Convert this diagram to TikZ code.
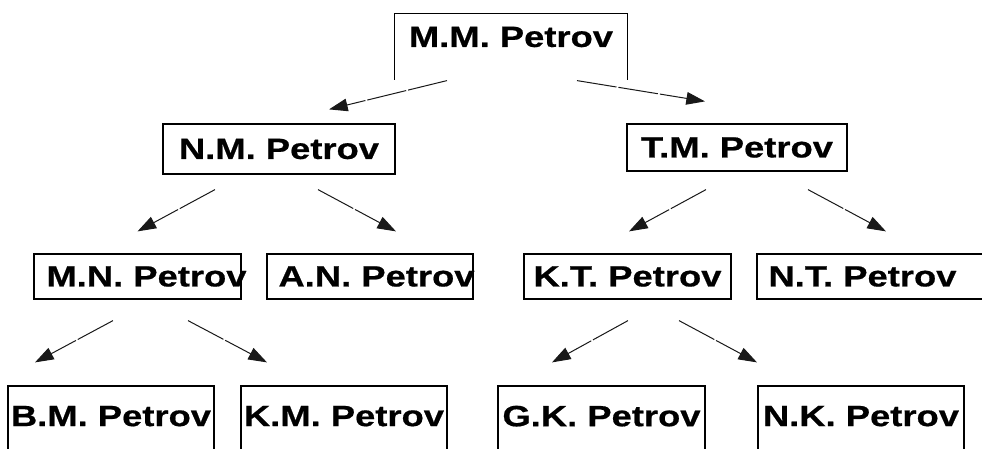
\documentclass[tikz,border=0pt]{standalone}
\usepackage{fontspec}
\newfontfamily\namefont{Liberation Sans}[FakeStretch=1.24, FakeBold=0.6]
\usepackage{tikz}
\usetikzlibrary{calc,arrows.meta}

\tikzset{
  namebox/.style={draw, line width=0.9pt, inner sep=0pt, minimum height=33.75pt,
    font=\namefont\bfseries\fontsize{22}{26}\selectfont},
  lowbox/.style={namebox, minimum height=60pt, text depth=15pt},
  arr/.style={-{Triangle[length=14pt,width=9.5pt]}, line width=0.75pt, black!90,
    dash pattern=on 30pt off 1.5pt}
}

\begin{document}
\begin{tikzpicture}[x=0.75pt, y=-0.75pt]
\useasboundingbox (0,0) rectangle (982,449);
\clip (0,0) rectangle (982,449);
% top
\node[namebox, draw=none, minimum width=174pt, minimum height=34.5pt] (mm) at (511,37) {M.M. Petrov};
\draw[line width=0.9pt] ($(mm.south west)+(0,19)$) -- (mm.north west) -- (mm.north east) -- ($(mm.south east)+(0,19)$);
% second row
\node[namebox, minimum width=174pt, minimum height=37.5pt] (nm) at (279,149) {N.M. Petrov};
\node[namebox, minimum width=165pt, minimum height=35.25pt] (tm) at (737,147.5) {T.M. Petrov};
% third row
\node[namebox, minimum width=155.25pt] (mn) at (137.5,276.5) {\hspace*{6.75pt}M.N. Petrov\hspace*{-6.75pt}};
\node[namebox, minimum width=154.5pt] (an) at (370,276.5) {\hspace*{4.9pt}A.N. Petrov\hspace*{-4.9pt}};
\node[namebox, minimum width=155.25pt] (kt) at (627.5,276.5) {K.T. Petrov};
\node[namebox, minimum width=182.25pt] (nt) at (878.5,276.5) {\hspace*{-12pt}N.T. Petrov\hspace*{12pt}};
% bottom row
\node[lowbox, minimum width=154.5pt] (bm) at (111,426) {B.M. Petrov};
\node[lowbox, minimum width=154.5pt] (km) at (344,426) {K.M. Petrov};
\node[lowbox, minimum width=155.25pt] (gk) at (601.5,426) {G.K. Petrov};
\node[lowbox, minimum width=154.5pt] (nk) at (861,426) {N.K. Petrov};
% arrows
\draw[arr] ($(mm.south)+(-64,20)$) -- ($(nm.north)+(50,-14)$);
\draw[arr] ($(mm.south)+(66,20)$) -- ($(tm.north)+(-32,-22)$);
\draw[arr] ($(nm.south)+(-64,15)$) -- ($(mn.north)+(0,-22)$);
\draw[arr] ($(nm.south)+(39,15)$) -- ($(an.north)+(26,-22)$);
\draw[arr] ($(tm.south)+(-31,18)$) -- ($(kt.north)+(1.5,-22)$);
\draw[arr] ($(tm.south)+(71,18)$) -- ($(nt.north)+(7.5,-22)$);
\draw[arr] ($(mn.south)+(-24.5,21)$) -- ($(bm.north)+(-76,-23)$);
\draw[arr] ($(mn.south)+(50.5,21)$) -- ($(km.north)+(-77,-23)$);
\draw[arr] ($(kt.south)+(0.5,21)$) -- ($(gk.north)+(-49.5,-23)$);
\draw[arr] ($(kt.south)+(51.5,21)$) -- ($(nk.north)+(-104,-23)$);
\end{tikzpicture}
\end{document}
